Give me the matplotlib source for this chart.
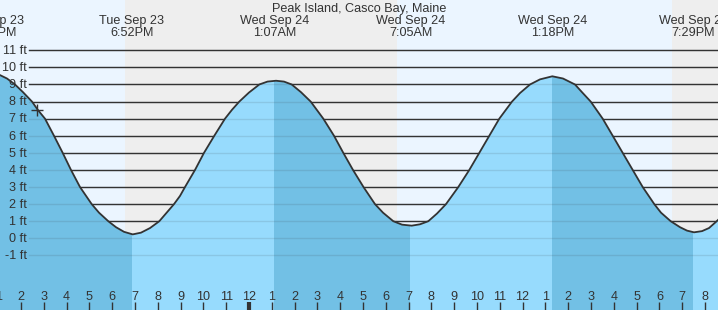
import matplotlib.pyplot as plt
import matplotlib.transforms as mtransforms
from matplotlib.patches import Rectangle

plt.rcParams['font.family'] = ['Liberation Sans', 'DejaVu Sans']

# hours counted from Wed Sep 24 00:00
tide_time = [-11.28, -10.921, -10.614, -10.263, -9.912, -9.518, -9.254, -8.947, -8.553, -8.171,
             -7.807, -7.412, -6.899, -6.579, -6.171, -5.833, -5.482, -5.101, -4.737, -4.342,
             -3.934, -3.289, -3.026, -2.807, -2.368, -1.974, -1.522, -1.053, -0.746, -0.425,
             0.0, 0.452, 0.811, 1.184, 1.535, 1.873, 2.281, 2.706, 3.259, 3.728,
             4.136, 4.561, 5.022, 5.526, 5.877, 6.329, 6.711, 7.136, 7.5,
             7.864, 8.246, 8.64, 9.18, 9.662, 10.101, 10.539, 10.978, 11.535, 11.886,
             12.325, 12.763, 13.303, 13.772, 14.298, 14.605, 14.987, 15.513, 15.952, 16.39,
             16.829, 17.268, 17.776, 18.07, 18.496, 18.904, 19.211, 19.518, 19.868, 20.175,
             20.513, 20.746]
tide_ft = [9.62, 9.55, 9.35, 9.0, 8.55, 8.0, 7.5, 7.0, 6.0, 5.0,
           4.0, 3.0, 2.0, 1.5, 1.0, 0.65, 0.38, 0.23, 0.33, 0.6,
           1.0, 2.0, 2.48, 3.0, 4.0, 5.0, 6.0, 7.0, 7.52, 8.0,
           8.53, 9.0, 9.17, 9.22, 9.17, 9.0, 8.55, 8.0, 7.0, 6.0,
           5.0, 4.0, 3.0, 2.0, 1.5, 1.0, 0.8, 0.74, 0.82,
           1.0, 1.45, 2.0, 3.0, 4.0, 5.0, 6.0, 7.0, 8.0, 8.5,
           9.0, 9.3, 9.48, 9.35, 9.0, 8.55, 8.0, 7.0, 6.0, 5.0,
           4.0, 3.0, 2.0, 1.5, 1.0, 0.65, 0.45, 0.35, 0.42, 0.6,
           1.0, 1.3]

event_time = [-11.283, -5.133, 1.117, 7.083, 13.3, 19.483]
event_kind = ['high', 'low', 'high', 'low', 'high', 'low']
event_date = ['Tue Sep 23', 'Tue Sep 23', 'Wed Sep 24', 'Wed Sep 24', 'Wed Sep 24', 'Wed Sep 24']
event_clock = ['12:43PM', '6:52PM', '1:07AM', '7:05AM', '1:18PM', '7:29PM']

night_start = [-5.433, 18.55]
night_end = [6.483, 30.5]

now_time = -9.30
now_ft = 7.51

ft_levels = list(range(-1, 12))
hour_ticks = list(range(-11, 21))
hour_labels = [str(h % 12 or 12) for h in hour_ticks]

title = 'Peak Island, Casco Bay, Maine'

x_min, x_max = -10.921, 20.57
y_min, y_max = -4.195, 13.944

day_bg = '#ebf5ff'
night_bg = '#eeeeee'
rise_col = '#97dbfd'
fall_col = '#72c0e5'
ink = '#333333'

fig = plt.figure(figsize=(7.18, 3.10), dpi=100)
fig.patch.set_facecolor(day_bg)
ax = fig.add_axes([0, 0, 1, 1])
ax.set_xlim(x_min, x_max)
ax.set_ylim(y_min, y_max)
ax.axis('off')

for s, e in zip(night_start, night_end):
    ax.axvspan(s, e, color=night_bg, lw=0, zorder=0)

gx0 = 29 / 718
for v in ft_levels:
    ax.axhline(v, xmin=gx0, xmax=1, color=ink, lw=1.0, zorder=1)

# fill under curve, coloured by rising / falling
for i, t0 in enumerate(event_time):
    t1 = event_time[i + 1] if i + 1 < len(event_time) else x_max + 5
    col = fall_col if event_kind[i] == 'high' else rise_col
    poly = ax.fill_between(tide_time, tide_ft, y_min - 5, color=col, lw=0, zorder=2)
    poly.set_clip_path(Rectangle((t0, y_min - 5), t1 - t0, y_max - y_min + 10,
                                 transform=ax.transData))

for v in ft_levels:
    ax.axhline(v, xmin=gx0, xmax=1, color=ink, lw=1.0, alpha=0.12, zorder=3)

ax.plot(tide_time, tide_ft, color=ink, lw=1.3, zorder=4)
ax.plot([now_time], [now_ft], marker='+', color=ink, ms=9, mew=1.0, zorder=5)

# y labels
trans_y = mtransforms.blended_transform_factory(ax.transAxes, ax.transData)
for v in ft_levels:
    ax.text(27 / 718, v - 0.22, '%d ft' % v, transform=trans_y, ha='right', va='baseline',
            fontsize=9.1, color=ink, zorder=6)

# event labels on top
trans_x = mtransforms.blended_transform_factory(ax.transData, ax.transAxes)
for t, d, c in zip(event_time, event_date, event_clock):
    ax.text(t, 1 - 24.3 / 310, d, transform=trans_x, ha='center', va='baseline',
            fontsize=9.1, color=ink, zorder=6)
    ax.text(t, 1 - 36 / 310, c, transform=trans_x, ha='center', va='baseline',
            fontsize=9.1, color=ink, zorder=6)

ax.text(0.5, 1 - 11.7 / 310, title, transform=ax.transAxes, ha='center', va='baseline',
        fontsize=9.1, color=ink, zorder=6)

# hour ticks along the bottom
for h, lab in zip(hour_ticks, hour_labels):
    ax.text(h, 10 / 310, lab, transform=trans_x, ha='center', va='baseline',
            fontsize=9.1, color=ink, zorder=6)
    ax.plot([h, h], [0, 8 / 310], transform=trans_x, color=ink,
            lw=3 if h == 0 else 1, solid_capstyle='butt', zorder=6)

fig.savefig('out.png', dpi=100, facecolor=fig.get_facecolor())
